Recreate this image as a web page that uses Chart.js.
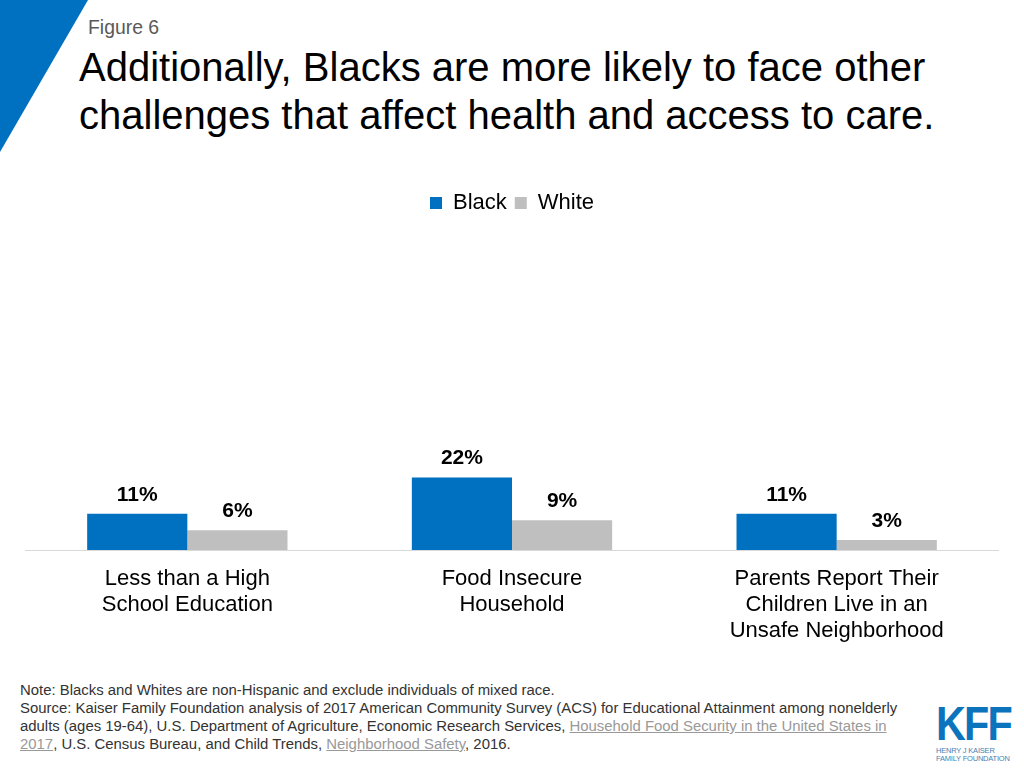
<!DOCTYPE html>
<html>
<head>
    <title>Figure 6</title>
    <script src="https://cdn.jsdelivr.net/npm/chart.js"></script>
    <style>
        body { margin: 0; width: 1024px; height: 768px; background: #fff; position: relative; overflow: hidden;
               font-family: "Liberation Sans", Arial, sans-serif; }
        .corner { position: absolute; left: 0; top: 0; width: 90px; height: 152px; background: #0070c0;
                  clip-path: polygon(0 0, 88px 0, 0 152px); }
        .fig { position: absolute; left: 88px; top: 16px; font-size: 19.4px; color: #595959; }
        .title { position: absolute; left: 79px; top: 43px; font-size: 40px; line-height: 48px; color: #000; white-space: nowrap; }
        .chart-box { position: absolute; left: 25px; top: 178px; width: 974px; height: 474px; }
        .note { position: absolute; left: 20px; top: 681px; font-size: 14.9px; line-height: 18px; color: #333; white-space: nowrap; }
        .note a { color: #999; text-decoration: underline; }
        .logo { position: absolute; left: 936px; top: 701px; width: 80px; }
        .logo .kff { font-weight: bold; font-size: 48px; color: #0b74bd; letter-spacing: -2px;
                     transform: scaleX(0.86); transform-origin: left top; line-height: 46px; }
        .logo .sub { font-size: 7.5px; color: #4a7fb0; line-height: 8px; letter-spacing: -0.2px; }
    </style>
</head>
<body>
    <div class="corner"></div>
    <div class="fig">Figure 6</div>
    <div class="title">Additionally, Blacks are more likely to face other<br>challenges that affect health and access to care.</div>

    <div class="chart-box"><canvas id="chart"></canvas></div>

    <div class="note">
        Note: Blacks and Whites are non-Hispanic and exclude individuals of mixed race.<br>
        Source: Kaiser Family Foundation analysis of 2017 American Community Survey (ACS) for Educational Attainment among nonelderly<br>
        adults (ages 19-64), U.S. Department of Agriculture, Economic Research Services, <a>Household Food Security in the United States in</a><br>
        <a>2017</a>, U.S. Census Bureau, and Child Trends, <a>Neighborhood Safety</a>, 2016.
    </div>
    <div class="logo">
        <div class="kff">KFF</div>
        <div class="sub">HENRY J KAISER<br>FAMILY FOUNDATION</div>
    </div>

    <script>
    // chart data
    const categories = [
        ['Less than a High', 'School Education'],
        ['Food Insecure', 'Household'],
        ['Parents Report Their', 'Children Live in an', 'Unsafe Neighborhood']
    ];
    const blackValues = [11, 22, 11];
    const whiteValues = [6, 9, 3];

    // draws the % labels above each bar
    const valueLabels = {
        id: 'valueLabels',
        afterDatasetsDraw(chart) {
            const ctx = chart.ctx;
            ctx.save();
            ctx.font = 'bold 21px "Liberation Sans", Arial, sans-serif';
            ctx.fillStyle = '#000';
            ctx.textAlign = 'center';
            ctx.textBaseline = 'middle';
            chart.data.datasets.forEach((ds, i) => {
                chart.getDatasetMeta(i).data.forEach((bar, j) => {
                    ctx.fillText(ds.data[j] + '%', bar.x, bar.y - 19);
                });
            });
            ctx.restore();
        }
    };

    new Chart(document.getElementById('chart'), {
        type: 'bar',
        data: {
            labels: categories,
            datasets: [{
                label: 'Black',
                data: blackValues,
                backgroundColor: '#0070c0'
            }, {
                label: 'White',
                data: whiteValues,
                backgroundColor: '#bfbfbf'
            }]
        },
        options: {
            responsive: true,
            maintainAspectRatio: false,
            animation: false,
            categoryPercentage: 0.617,
            barPercentage: 1,
            layout: { padding: { top: 6 } },
            plugins: {
                legend: {
                    position: 'top',
                    labels: {
                        boxWidth: 12,
                        boxHeight: 12,
                        padding: 8,
                        color: '#000',
                        font: { size: 22, family: '"Liberation Sans", Arial, sans-serif' }
                    }
                },
                tooltip: { enabled: false }
            },
            scales: {
                x: {
                    grid: { display: false },
                    border: { display: true, color: '#d9d9d9', width: 1 },
                    ticks: {
                        color: '#000',
                        padding: 8,
                        maxRotation: 0,
                        font: { size: 22, family: '"Liberation Sans", Arial, sans-serif', lineHeight: '26px' }
                    }
                },
                y: {
                    display: false,
                    min: 0,
                    max: 99
                }
            }
        },
        plugins: [valueLabels]
    });
    </script>
</body>
</html>
